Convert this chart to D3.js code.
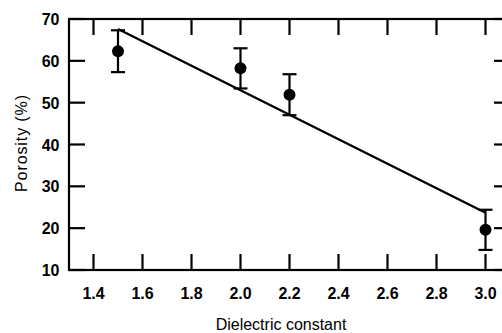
<!DOCTYPE html>
<html><head><meta charset="utf-8">
<script src="https://cdn.jsdelivr.net/npm/d3@7"></script>
<style>body{margin:0;background:#fff}svg{display:block}</style>
</head><body>
<svg id="c" width="502" height="333"></svg>
<script>
const xValues = [1.5, 2.0, 2.2, 3.0];
const porosity = [62.3, 58.2, 51.9, 19.6];
const errors = [5.0, 4.8, 4.9, 4.8];
const fitLineX = [1.5, 3.0];
const fitLineY = [67.6, 23.7];
const xTicks = [1.4, 1.6, 1.8, 2.0, 2.2, 2.4, 2.6, 2.8, 3.0];
const yTicks = [10, 20, 30, 40, 50, 60, 70];

const svg = d3.select("#c");
const L = 69, R = 510, T = 19, B = 270;
const x = d3.scaleLinear().domain([1.3, 3.1]).range([L, R]);
const y = d3.scaleLinear().domain([10, 70]).range([B, T]);
const font = "Liberation Sans, Arial, sans-serif";
const tl = 16;

// frame
svg.append("rect").attr("x", L).attr("y", T).attr("width", R - L).attr("height", B - T)
  .attr("fill", "none").attr("stroke", "#000").attr("stroke-width", 2.2);

const g = svg.append("g").attr("stroke", "#000").attr("stroke-width", 2.2);
xTicks.forEach(v => {
  g.append("line").attr("x1", x(v)).attr("x2", x(v)).attr("y1", B).attr("y2", B - tl);
  g.append("line").attr("x1", x(v)).attr("x2", x(v)).attr("y1", T).attr("y2", T + tl);
});
yTicks.forEach(v => {
  g.append("line").attr("x1", L).attr("x2", L + tl).attr("y1", y(v)).attr("y2", y(v));
  g.append("line").attr("x1", R).attr("x2", R - tl).attr("y1", y(v)).attr("y2", y(v));
});

// tick labels
svg.append("g").selectAll("text").data(xTicks).join("text")
  .attr("x", d => x(d)).attr("y", 299).attr("text-anchor", "middle")
  .attr("font-family", font).attr("font-size", 16).attr("font-weight", "bold")
  .text(d => d.toFixed(1));
svg.append("g").selectAll("text").data(yTicks).join("text")
  .attr("x", 59.5).attr("y", d => y(d) + 6).attr("text-anchor", "end")
  .attr("font-family", font).attr("font-size", 16).attr("font-weight", "bold")
  .text(d => d);

// axis labels
svg.append("text").attr("x", 281).attr("y", 330).attr("text-anchor", "middle")
  .attr("font-family", font).attr("font-size", 16).text("Dielectric constant");
svg.append("text").attr("transform", "translate(27,143) rotate(-90)").attr("text-anchor", "middle")
  .attr("font-family", font).attr("font-size", 16).attr("letter-spacing", 0.9).text("Porosity (%)");

// fit line
svg.append("line").attr("x1", x(fitLineX[0])).attr("y1", y(fitLineY[0]))
  .attr("x2", x(fitLineX[1])).attr("y2", y(fitLineY[1]))
  .attr("stroke", "#000").attr("stroke-width", 2.2);

// error bars
const eb = svg.append("g").attr("stroke", "#000").attr("stroke-width", 2.2);
xValues.forEach((xv, i) => {
  const cx = x(xv), top = y(porosity[i] + errors[i]), bot = y(porosity[i] - errors[i]);
  eb.append("line").attr("x1", cx).attr("x2", cx).attr("y1", top).attr("y2", bot);
  eb.append("line").attr("x1", cx - 7).attr("x2", cx + 7).attr("y1", top).attr("y2", top);
  eb.append("line").attr("x1", cx - 7).attr("x2", cx + 7).attr("y1", bot).attr("y2", bot);
});
svg.append("g").selectAll("circle").data(xValues).join("circle")
  .attr("cx", d => x(d)).attr("cy", (d, i) => y(porosity[i])).attr("r", 6).attr("fill", "#000");
</script>
</body></html>
